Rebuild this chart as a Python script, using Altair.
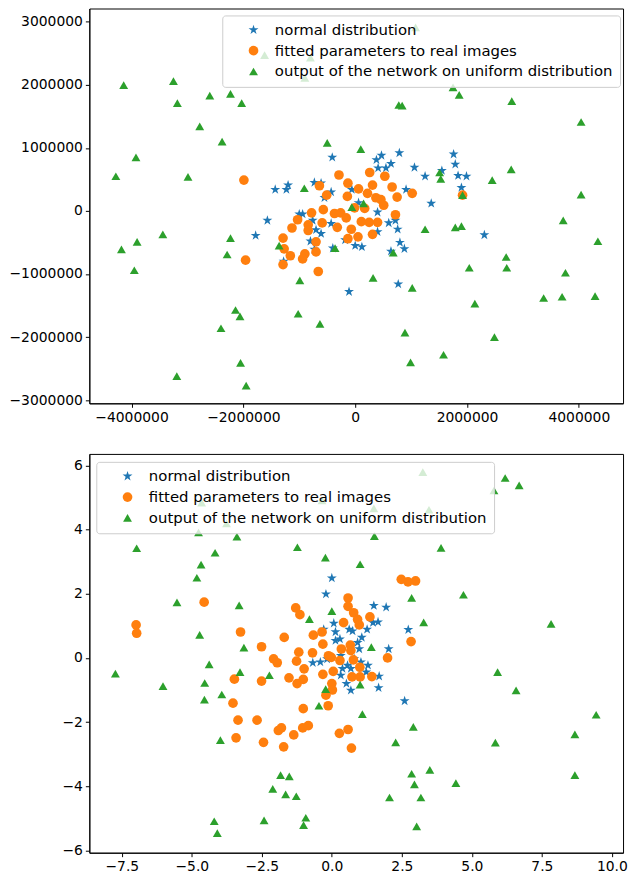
import altair as alt
import pandas as pd

SERIES = ["normal distribution", "fitted parameters to real images",
          "output of the network on uniform distribution"]
COLORS = ["#1f77b4", "#ff7f0e", "#2ca02c"]
STAR = ("M0,-1L0.2245,-0.309L0.9511,-0.309L0.3633,0.118L0.5878,0.809L0,0.382"
        "L-0.5878,0.809L-0.3633,0.118L-0.9511,-0.309L-0.2245,-0.309Z")
SHAPES = [STAR, "circle", "triangle-up"]
SIZES = [110, 80, 120]

# ---------------- top panel (values in millions) ----------------
top_star_x = [-0.41, -1.43, -1.23, -1.20, -1.57, -1.78, -1.00, -0.94, -0.73, -0.61, -0.43, -0.55,
              -0.76, -0.70, -0.61, -0.80, -0.73, -0.43, -0.40, 0.00, 0.12, -0.18, -0.11, 0.77,
              0.38, 0.47, 0.79, 0.41, 0.55, 0.64, 1.06, 1.25, 1.55, 1.76, 1.79, 1.84, 1.99, 1.90,
              1.36, 2.31, 0.91, 0.40, 0.60, 0.72, 0.76, 0.80, 0.88, 0.64, 0.40, 0.06, -0.06, -1.28]
top_star_y = [0.85, 0.34, 0.34, 0.41, -0.15, -0.39, -0.05, -0.05, 0.45, 0.44, 0.30, 0.21,
              -0.15, -0.30, -0.36, -0.48, -0.61, -0.20, -0.59, -0.55, -0.57, -0.46, -1.28, -1.16,
              0.81, 0.88, 0.92, 0.68, 0.68, 0.75, 0.69, 0.55, 0.64, 0.90, 0.74, 0.56, 0.55, 0.37,
              0.12, -0.38, 0.34, -0.02, -0.19, -0.15, -0.29, -0.50, -0.60, -0.64, -0.33, 0.13, 0.34, -0.80]

top_circ_x = [-1.99, -1.96, -1.29, -1.27, -1.16, -1.29, -1.13, -1.03, -0.84, -0.84, -0.90, -0.94,
              -0.70, -0.70, -0.66, -0.78, -0.64, -0.51, -0.57, -0.59, -0.37, -0.32, -0.29, -0.13,
              -0.14, -0.26, -0.16, -0.07, -0.13, 0.05, -0.01, 0.06, 0.17, 0.26, 0.31, 0.22, 0.37,
              0.46, 0.53, 0.66, 0.75, 1.02, 0.72, 0.51, 0.40, 0.25, 0.11, 0.31, 1.92]
top_circ_y = [0.49, -0.78, -0.43, -0.60, -0.71, -0.85, -0.27, -0.14, -0.22, -0.31, -0.68, -0.76,
              -0.65, -0.49, -0.96, -0.03, 0.40, 0.25, 0.02, -0.19, -0.04, -0.26, 0.57, 0.44,
              0.23, -0.03, -0.11, -0.29, -0.44, -0.41, 0.05, 0.35, 0.04, 0.61, 0.41, 0.28, 0.21,
              0.18, 0.55, 0.38, 0.22, 0.28, -0.06, 0.09, -0.18, -0.18, -0.17, -0.37, 0.25]

top_tri_x = [-4.14, -3.25, -3.18, -2.60, -2.23, -2.03, -2.78, -2.38, -3.92, -4.28, -2.99, -0.50,
             0.10, -0.91, 1.75, 1.86, 0.78, 0.84, 2.80, 4.04, 2.79, 2.45, 1.51, 1.53, 1.92, 4.04,
             3.72, 4.34, 1.25, 1.79, 1.90, -0.06, 0.15, -0.36, 0.68, -1.36, -3.44, -3.90, -4.18,
             -2.23, -2.29, -3.95, 2.70, 2.71, 2.04, 3.76, 3.37, 3.70, 4.29, -0.99, 0.32, 1.02,
             2.14, -2.14, -2.06, -1.02, -0.63, -2.40, 0.89, 2.49, 1.58, 0.99, -2.05, -3.19, -1.95,
             1.08, -1.62, -0.80, -0.90]
top_tri_y = [1.995, 2.06, 1.71, 1.83, 1.855, 1.71, 1.34, 1.10, 0.85, 0.55, 0.54, 1.08,
             0.98, 0.36, 1.96, 1.84, 1.68, 1.67, 1.74, 1.41, 0.66, 0.49, 0.61, 0.51, 0.25, 0.26,
             -0.15, -0.48, -0.29, -0.26, -0.24, 0.06, 0.12, -0.59, -0.66, -0.55, -0.37, -0.49, -0.61,
             -0.43, -0.69, -0.94, -0.73, -0.90, -0.90, -0.98, -1.38, -1.36, -1.35, -1.10, -1.06, -1.22,
             -1.47, -1.57, -1.67, -1.63, -1.79, -1.86, -1.93, -2.00, -2.28, -2.40, -2.41, -2.62, -2.77,
             2.91, 2.47, 2.43, 2.11]

# ---------------- bottom panel ----------------
bot_star_x = [0.00, -0.21, 1.50, 1.94, 2.73, 2.03, 2.60, 1.69, 1.67, 0.68, 0.52, 0.32,
              1.29, 1.04, -0.68, -0.41, -0.17, 0.13, 0.29, 0.07, 0.13, 0.62, 0.74, 0.92,
              1.07, 1.26, 1.47, 1.65, -0.29, 0.56, 0.38, 0.68, 0.98, 0.32, 0.80, 1.23]
bot_star_y = [2.49, 1.99, 1.63, 1.58, 0.88, 0.28, -1.34, -0.57, -0.93, -1.01, -0.80, -0.54,
              -0.23, -0.13, -0.15, -0.13, -0.03, 0.54, 0.59, 1.08, 0.81, 0.89, 0.84, 0.48,
              0.64, 0.89, 1.10, 1.12, 0.89, -0.23, -0.33, -0.33, 0.28, 0.07, -0.03, -0.44]

bot_circ_x = [-6.99, -6.97, -4.56, -3.26, -2.51, -1.70, -1.29, -1.14, -0.66, -0.35, -0.32, -1.18,
              -1.26, -0.99, -2.08, -1.95, -0.69, -0.12, -0.02, 0.29, 0.34, 0.66, 0.68, 0.77,
              0.05, -0.32, 1.00, 0.72, 1.01, 1.43, 1.99, 2.83, 0.42, 0.58, 0.58, 0.78, 0.92,
              0.98, 1.36, 2.48, 2.72, 2.99, -3.48, -2.51, -1.53, -1.24, -1.02, 0.00, 0.02, -0.21,
              -0.13, -1.02, -3.53, -3.35, -2.67, -1.91, -1.80, -1.04, -0.84, -1.36, -3.42, -2.44,
              -1.72, 0.27, 0.58, 0.70]
bot_circ_y = [1.03, 0.77, 1.74, 0.81, 0.35, 0.64, 1.56, 1.35, 0.71, 0.81, 0.43, 0.18,
              -0.10, -0.34, -0.03, -0.15, 0.16, 0.07, 0.02, -0.08, 0.28, 0.40, 0.23, -0.06,
              -0.42, -0.51, -0.29, -0.59, -0.59, -0.58, 0.00, 0.51, 1.10, 1.87, 1.61, 1.41, 1.20,
              1.03, 1.28, 2.45, 2.37, 2.40, -0.66, -0.72, -0.62, -0.80, -0.67, -0.80, -1.00, -1.16,
              -1.49, -1.58, -1.41, -1.94, -1.94, -2.26, -2.18, -2.18, -2.11, -2.40, -2.49, -2.63,
              -2.77, -2.35, -2.23, -2.81]

bot_tri_x = [6.19, 6.69, 5.79, 3.25, -4.65, -0.35, 1.50, 3.47, -3.76, -4.76, -3.39, 1.52,
             -6.97, -4.17, -1.23, -0.23, 1.01, 3.90, -4.67, -4.82, -5.53, -3.31, 2.85, 4.70,
             0.00, -0.80, 3.28, 7.83, -4.72, -3.14, 1.41, -4.38, -7.73, -3.28, -2.23, -6.03,
             -4.54, -3.93, -4.55, -0.22, 1.01, -0.46, 1.09, 2.91, 5.92, 6.58, 9.44, 8.68, 5.84,
             2.28, -3.98, 8.68, -1.83, -1.52, 2.85, 3.50, -2.11, -1.65, -1.27, 2.95, 4.43, 2.06,
             3.18, -4.20, -2.42, -0.93, -1.01, 3.03, -4.09]
bot_tri_y = [5.61, 5.38, 5.22, 5.79, 4.84, 4.91, 4.66, 4.62, 4.19, 3.91, 3.78, 3.80,
             3.42, 3.28, 3.45, 3.13, 2.92, 3.43, 2.91, 2.50, 1.73, 1.64, 1.87, 1.97,
             1.46, 1.21, 1.11, 1.06, 0.72, 0.32, 0.34, -0.20, -0.49, -0.44, -0.54, -0.88,
             -0.78, -1.14, -1.30, -0.97, -0.83, -1.49, -1.75, -2.15, -0.44, -1.01, -1.77, -2.38, -2.64,
             -2.63, -2.56, -3.65, -3.65, -3.69, -3.61, -3.49, -4.08, -4.25, -4.31, -3.94, -3.90, -4.35,
             -4.35, -5.09, -5.06, -4.98, -5.21, -5.25, -5.46]

top_x_ticks = [-4000000, -2000000, 0, 2000000, 4000000]
top_y_ticks = [-3000000, -2000000, -1000000, 0, 1000000, 2000000, 3000000]
bot_x_ticks = [-7.5, -5.0, -2.5, 0.0, 2.5, 5.0, 7.5, 10.0]
bot_y_ticks = [-6, -4, -2, 0, 2, 4, 6]


def frame(xs, ys, scale):
    rows = []
    for i, (sx, sy) in enumerate(zip(xs, ys)):
        for a, b in zip(sx, sy):
            rows.append({"x": a * scale, "y": b * scale, "series": SERIES[i], "ord": i})
    return pd.DataFrame(rows)


top_df = frame([top_star_x, top_circ_x, top_tri_x], [top_star_y, top_circ_y, top_tri_y], 1e6)
bot_df = frame([bot_star_x, bot_circ_x, bot_tri_x], [bot_star_y, bot_circ_y, bot_tri_y], 1.0)

FONT = "DejaVu Sans"
W = 538


def panel(df, xdom, ydom, xticks, yticks, xfmt, yfmt, lx, ly, h):
    leg = alt.Legend(title=None, orient="none", legendX=lx, legendY=ly)
    return alt.Chart(df).mark_point(filled=True, opacity=1, strokeWidth=0).encode(
        x=alt.X("x:Q", scale=alt.Scale(domain=xdom, nice=False, zero=False),
                axis=alt.Axis(values=xticks, format=xfmt, title=None)),
        y=alt.Y("y:Q", scale=alt.Scale(domain=ydom, nice=False, zero=False),
                axis=alt.Axis(values=yticks, format=yfmt, title=None)),
        color=alt.Color("series:N", scale=alt.Scale(domain=SERIES, range=COLORS), legend=leg),
        shape=alt.Shape("series:N", scale=alt.Scale(domain=SERIES, range=SHAPES), legend=leg),
        size=alt.Size("series:N", scale=alt.Scale(domain=SERIES, range=SIZES), legend=None),
        order=alt.Order("ord:Q"),
    ).properties(width=W, height=h)


top = panel(top_df, [-4754000, 4790000], [-3050000, 3210000], top_x_ticks, top_y_ticks,
            "d", "d", 134, 7, 398)
bot = panel(bot_df, [-8.66, 10.40], [-6.07, 6.36], bot_x_ticks, bot_y_ticks,
            ".1f", "d", 7, 8, 402)

chart = alt.vconcat(top, bot, spacing=28).resolve_scale(
    x="independent", y="independent", color="independent", shape="independent", size="independent"
).resolve_legend(color="independent", shape="independent").properties(
    padding={"top": -4, "left": 0, "right": 0, "bottom": 0}
).configure_view(
    stroke="#000000", strokeWidth=1
).configure_axis(
    grid=False, domainColor="#000000", tickColor="#000000", tickSize=4,
    labelFont=FONT, labelFontSize=14, labelColor="#000000", labelPadding=3
).configure_legend(
    labelFont=FONT, labelFontSize=15, labelColor="#000000", labelLimit=0,
    fillColor="rgba(255,255,255,0.8)",
    strokeColor="#cccccc", cornerRadius=3, padding=7, symbolOffset=17, labelOffset=14,
    rowPadding=5, symbolSize=80, symbolStrokeWidth=0
)

chart.save("out.html", embed_options={"renderer": "svg", "actions": False})
